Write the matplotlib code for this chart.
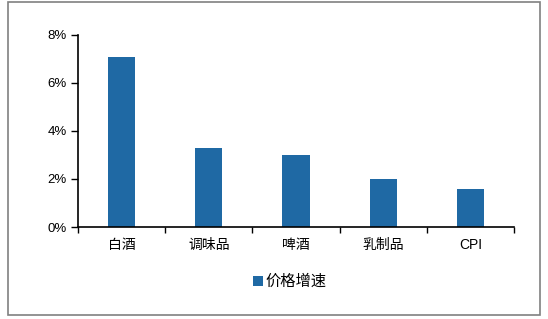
import matplotlib
matplotlib.use('Agg')
import matplotlib.pyplot as plt
from matplotlib.patches import Rectangle
from matplotlib.ticker import FuncFormatter, MultipleLocator

plt.rcParams['font.family'] = ['Liberation Sans', 'Noto Sans CJK SC', 'DejaVu Sans']

categories = ['白酒', '调味品', '啤酒', '乳制品', 'CPI']
growth = [7.1, 3.3, 3.0, 2.0, 1.6]
series_name = '价格增速'

fig = plt.figure(figsize=(5.48, 3.19), dpi=100)
ax = fig.add_axes([0.1423, 0.2884, 0.7957, 0.6019])

x = range(len(categories))
ax.bar(x, growth, width=0.31, color='#1F69A4', label=series_name, zorder=2)

ax.set_xlim(-0.5, len(categories) - 0.5)
ax.set_ylim(0, 8)
ax.yaxis.set_major_locator(MultipleLocator(2))
ax.yaxis.set_major_formatter(FuncFormatter(lambda v, p: f'{v:.0f}%'))

# x ticks at category boundaries, labels centered
ax.set_xticks([i - 0.5 for i in range(len(categories) + 1)])
ax.set_xticklabels([])
ax.set_xticks(list(x), minor=True)
ax.set_xticklabels(categories, minor=True)
ax.tick_params(axis='x', which='minor', length=0, pad=8, labelsize=10)
ax.tick_params(axis='x', which='major', length=4, width=1, direction='out')
ax.tick_params(axis='y', length=5, width=1, direction='out', labelsize=9.5, pad=3)

for s in ['top', 'right']:
    ax.spines[s].set_visible(False)
ax.spines['left'].set_linewidth(1.2)
ax.spines['bottom'].set_linewidth(1.2)

ax.legend(loc='center', bbox_to_anchor=(290 / 548, 1 - 282 / 319),
          bbox_transform=fig.transFigure, frameon=False, fontsize=11,
          handlelength=0.6, handleheight=0.6, handletextpad=0.2)

# outer gray frame
fig.patches.append(Rectangle((8 / 548, 1 - 315 / 319), 532 / 548, 313 / 319,
                             transform=fig.transFigure, fill=False,
                             edgecolor='#808080', linewidth=1.2))

fig.savefig('out.png', dpi=100)
